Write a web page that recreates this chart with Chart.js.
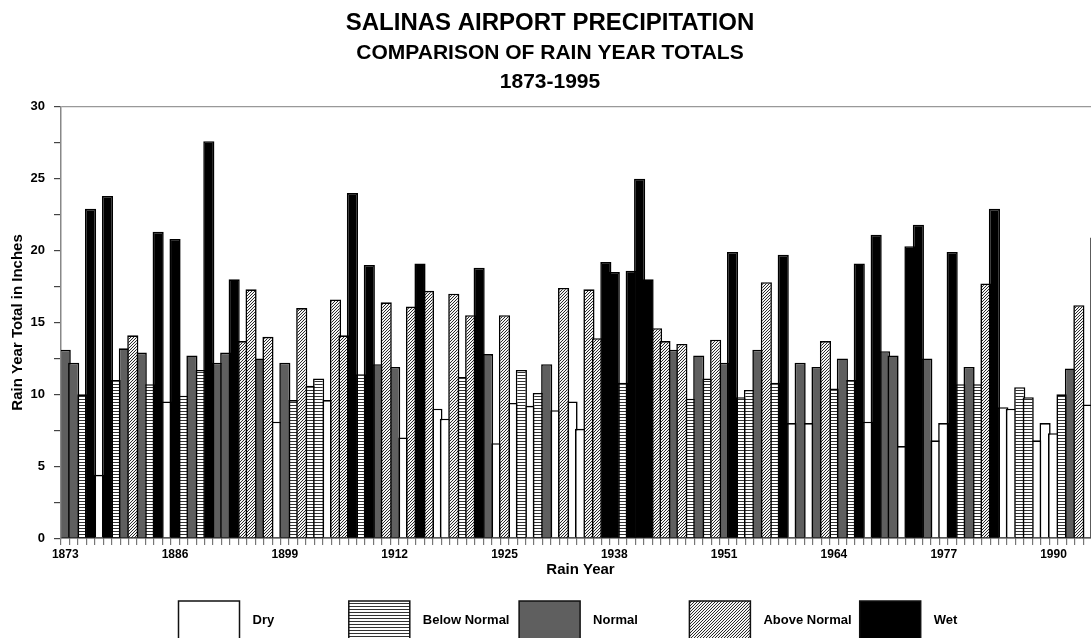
<!DOCTYPE html>
<html lang="en">
<head>
    <meta charset="UTF-8">
    <title>Salinas Airport Precipitation</title>
    <script src="https://cdn.jsdelivr.net/npm/chart.js"></script>
    <style>
        html, body { margin: 0; padding: 0; overflow: hidden; background: #fff; }
        .wrap { width: 1100px; height: 638px; }
    </style>
</head>
<body>
    <div class="wrap">
        <canvas id="rainChart" width="1100" height="638"></canvas>
    </div>
    <script>
        const years = [
            1873, 1874, 1875, 1876, 1877, 1878, 1879, 1880, 1881, 1882, 1883, 1884, 1885,
            1886, 1887, 1888, 1889, 1890, 1891, 1892, 1893, 1894, 1895, 1896, 1897, 1898,
            1899, 1900, 1901, 1902, 1903, 1904, 1905, 1906, 1907, 1908, 1909, 1910, 1911,
            1912, 1913, 1914, 1915, 1916, 1917, 1918, 1919, 1920, 1921, 1922, 1923, 1924,
            1925, 1926, 1927, 1928, 1929, 1930, 1931, 1932, 1933, 1934, 1935, 1936, 1937,
            1938, 1939, 1940, 1941, 1942, 1943, 1944, 1945, 1946, 1947, 1948, 1949, 1950,
            1951, 1952, 1953, 1954, 1955, 1956, 1957, 1958, 1959, 1960, 1961, 1962, 1963,
            1964, 1965, 1966, 1967, 1968, 1969, 1970, 1971, 1972, 1973, 1974, 1975, 1976,
            1977, 1978, 1979, 1980, 1981, 1982, 1983, 1984, 1985, 1986, 1987, 1988, 1989,
            1990, 1991, 1992, 1993, 1994, 1995
        ];

        // rain year totals in inches
        const totals = [
            13.1, 12.2, 10.0, 22.9, 4.4, 23.8, 11.0, 13.2, 14.1, 12.9, 10.7, 21.3, 9.5,
            20.8, 9.9, 12.7, 11.7, 27.6, 12.2, 12.9, 18.0, 13.7, 17.3, 12.5, 14.0, 8.1,
            12.2, 9.6, 16.0, 10.6, 11.1, 9.6, 16.6, 14.1, 24.0, 11.4, 19.0, 12.1, 16.4,
            11.9, 7.0, 16.1, 19.1, 17.2, 9.0, 8.3, 17.0, 11.2, 15.5, 18.8, 12.8, 6.6,
            15.5, 9.4, 11.7, 9.2, 10.1, 12.1, 8.9, 17.4, 9.5, 7.6, 17.3, 13.9, 19.2,
            18.5, 10.8, 18.6, 25.0, 18.0, 14.6, 13.7, 13.1, 13.5, 9.7, 12.7, 11.1, 13.8,
            12.2, 19.9, 9.8, 10.3, 13.1, 17.8, 10.8, 19.7, 8.0, 12.2, 8.0, 11.9, 13.7,
            10.4, 12.5, 11.0, 19.1, 8.1, 21.1, 13.0, 12.7, 6.4, 20.3, 21.8, 12.5, 6.8,
            8.0, 19.9, 10.7, 11.9, 10.7, 17.7, 22.9, 9.1, 9.0, 10.5, 9.8, 6.8, 8.0,
            7.3, 10.0, 11.8, 16.2, 9.3, 20.9
        ];

        // D = dry, BN = below normal, N = normal, AN = above normal, W = wet
        const classes = [
            'N', 'N', 'BN', 'W', 'D', 'W', 'BN', 'N', 'AN', 'N', 'BN', 'W', 'D',
            'W', 'BN', 'N', 'BN', 'W', 'N', 'N', 'W', 'AN', 'AN', 'N', 'AN', 'D',
            'N', 'BN', 'AN', 'BN', 'BN', 'D', 'AN', 'AN', 'W', 'BN', 'W', 'N', 'AN',
            'N', 'D', 'AN', 'W', 'AN', 'D', 'D', 'AN', 'BN', 'AN', 'W', 'N', 'D',
            'AN', 'D', 'BN', 'D', 'BN', 'N', 'D', 'AN', 'D', 'D', 'AN', 'AN', 'W',
            'W', 'BN', 'W', 'W', 'W', 'AN', 'AN', 'N', 'AN', 'BN', 'N', 'BN', 'AN',
            'N', 'W', 'BN', 'BN', 'N', 'AN', 'BN', 'W', 'D', 'N', 'D', 'N', 'AN',
            'BN', 'N', 'BN', 'W', 'D', 'W', 'N', 'N', 'D', 'W', 'W', 'N', 'D',
            'D', 'W', 'BN', 'N', 'BN', 'AN', 'W', 'D', 'D', 'BN', 'BN', 'D', 'D',
            'D', 'BN', 'N', 'AN', 'D', 'W'
        ];

        const classCodes = ['D', 'BN', 'N', 'AN', 'W'];
        const classNames = ['Dry', 'Below Normal', 'Normal', 'Above Normal', 'Wet'];
        const tickYears = [1873, 1886, 1899, 1912, 1925, 1938, 1951, 1964, 1977, 1990];
        const yLabels = [0, 5, 10, 15, 20, 25, 30];

        function stripePattern() {
            const tile = document.createElement('canvas');
            tile.width = 4;
            tile.height = 3;
            const t = tile.getContext('2d');
            t.fillStyle = '#fff';
            t.fillRect(0, 0, 4, 3);
            t.fillStyle = '#333';
            t.fillRect(0, 0, 4, 1);
            return t.createPattern(tile, 'repeat');
        }

        function hatchPattern() {
            const tile = document.createElement('canvas');
            tile.width = 3;
            tile.height = 3;
            const t = tile.getContext('2d');
            t.fillStyle = '#f4f4f4';
            t.fillRect(0, 0, 3, 3);
            t.fillStyle = '#2a2a2a';
            t.fillRect(2, 0, 1, 1);
            t.fillRect(1, 1, 1, 1);
            t.fillRect(0, 2, 1, 1);
            return t.createPattern(tile, 'repeat');
        }

        const fills = ['#ffffff', stripePattern(), '#5f5f5f', hatchPattern(), '#000000'];

        const datasets = classCodes.map((code, k) => ({
            label: classNames[k],
            data: totals.map((v, i) => classes[i] === code ? v : null),
            backgroundColor: fills[k],
            borderColor: '#000',
            borderWidth: 1.6,
            order: classCodes.length - k   // wet drawn last, dry first
        }));

        // legend of big boxes spread evenly under the chart
        const boxLegend = {
            id: 'boxLegend',
            afterDraw(chart) {
                const ctx = chart.ctx;
                ctx.save();
                chart.data.datasets.forEach((ds, k) => {
                    const x = 178.5 + k * 170.3;
                    ctx.fillStyle = ds.backgroundColor;
                    ctx.fillRect(x, 601, 61, 40);
                    ctx.lineWidth = 1.5;
                    ctx.strokeStyle = '#111';
                    ctx.strokeRect(x, 601, 61, 40);
                    ctx.fillStyle = '#000';
                    ctx.font = "bold 13px 'Liberation Sans', Arial, sans-serif";
                    ctx.textBaseline = 'middle';
                    ctx.textAlign = 'left';
                    ctx.fillText(ds.label, x + 74, 620.5);
                });
                ctx.restore();
            }
        };

        Chart.defaults.font.family = "'Liberation Sans', Arial, sans-serif";
        Chart.defaults.color = '#000';

        const ctx = document.getElementById('rainChart').getContext('2d');
        new Chart(ctx, {
            type: 'bar',
            data: { labels: years, datasets: datasets },
            plugins: [boxLegend],
            options: {
                responsive: false,
                animation: false,
                layout: { padding: { left: 0, right: 0, top: 0, bottom: 60 } },
                datasets: {
                    bar: { grouped: false, categoryPercentage: 1, barPercentage: 1.32 }
                },
                plugins: {
                    legend: { display: false },
                    tooltip: { enabled: false },
                    title: {
                        display: true,
                        text: 'SALINAS AIRPORT PRECIPITATION',
                        font: { size: 24, weight: 'bold', lineHeight: 1.2 },
                        padding: { top: 9, bottom: 1 }
                    },
                    subtitle: {
                        display: true,
                        text: ['COMPARISON OF RAIN YEAR TOTALS', '1873-1995'],
                        color: '#000',
                        font: { size: 21, weight: 'bold', lineHeight: 1.38 },
                        padding: { top: 0, bottom: 10 }
                    }
                },
                scales: {
                    x: {
                        offset: true,
                        grid: {
                            offset: true,
                            drawOnChartArea: false,
                            tickLength: 7,
                            tickColor: '#777',
                            lineWidth: 1.2
                        },
                        border: { color: '#222', width: 1.5 },
                        ticks: {
                            autoSkip: false,
                            maxRotation: 0,
                            padding: 2,
                            font: { size: 12, weight: 'bold' },
                            callback: function (val) {
                                const yr = Number(this.getLabelForValue(val));
                                return tickYears.includes(yr) ? String(yr) : '';
                            }
                        },
                        title: {
                            display: true,
                            text: 'Rain Year',
                            font: { size: 15, weight: 'bold', lineHeight: 1.1 },
                            padding: { top: -2, bottom: 0 }
                        }
                    },
                    y: {
                        min: 0,
                        max: 30,
                        afterFit: (scale) => { scale.width = 61; },
                        grid: {
                            color: (c) => c.tick && c.tick.value === 30 ? '#999' : 'rgba(0,0,0,0)',
                            tickColor: '#444',
                            tickLength: 7,
                            lineWidth: 1.2
                        },
                        border: { color: '#888', width: 1.5 },
                        ticks: {
                            stepSize: 2.5,
                            autoSkip: false,
                            padding: 9,
                            font: { size: 13, weight: 'bold' },
                            callback: (v) => yLabels.includes(v) ? v : ''
                        },
                        title: {
                            display: true,
                            text: 'Rain Year Total in Inches',
                            font: { size: 15, weight: 'bold', lineHeight: 1.2 },
                            padding: { top: 9, bottom: 0 }
                        }
                    }
                }
            }
        });
    </script>
</body>
</html>
